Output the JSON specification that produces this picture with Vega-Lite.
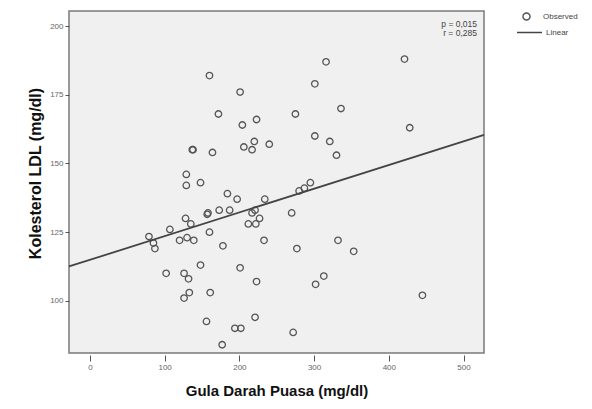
{
  "$schema": "https://vega.github.io/schema/vega-lite/v6.json",
  "width": 415,
  "height": 342,
  "autosize": {"type": "none"},
  "padding": {"left": 69, "top": 11, "right": 108, "bottom": 56},
  "background": "white",
  "config": {
    "font": "Liberation Sans",
    "view": {"fill": "#f0f0f0", "stroke": "#7a7a7a", "strokeWidth": 1.5},
    "axis": {"grid": false, "domain": false, "tickColor": "#555", "labelColor": "#666", "labelFontSize": 8, "titleColor": "#111", "titleFontWeight": "bold"}
  },
  "datasets": {
    "obs": [
      {"gdp": 79, "ldl": 123.4}, {"gdp": 85, "ldl": 121}, {"gdp": 87, "ldl": 119},
      {"gdp": 102, "ldl": 110}, {"gdp": 107, "ldl": 126}, {"gdp": 120, "ldl": 122},
      {"gdp": 126, "ldl": 110}, {"gdp": 126, "ldl": 101}, {"gdp": 128, "ldl": 130},
      {"gdp": 129, "ldl": 146}, {"gdp": 129, "ldl": 142}, {"gdp": 130, "ldl": 123},
      {"gdp": 132, "ldl": 108}, {"gdp": 133, "ldl": 103}, {"gdp": 135, "ldl": 128},
      {"gdp": 137, "ldl": 155}, {"gdp": 138, "ldl": 155}, {"gdp": 139, "ldl": 122},
      {"gdp": 148, "ldl": 143}, {"gdp": 148, "ldl": 113}, {"gdp": 156, "ldl": 92.5},
      {"gdp": 157, "ldl": 131.5}, {"gdp": 158, "ldl": 132}, {"gdp": 160, "ldl": 125},
      {"gdp": 161, "ldl": 103}, {"gdp": 164, "ldl": 154}, {"gdp": 160, "ldl": 182},
      {"gdp": 172, "ldl": 168}, {"gdp": 173, "ldl": 133}, {"gdp": 177, "ldl": 84},
      {"gdp": 178, "ldl": 120}, {"gdp": 184, "ldl": 139}, {"gdp": 187, "ldl": 133},
      {"gdp": 194, "ldl": 90}, {"gdp": 202, "ldl": 90}, {"gdp": 197, "ldl": 137},
      {"gdp": 201, "ldl": 176}, {"gdp": 201, "ldl": 112}, {"gdp": 204, "ldl": 164},
      {"gdp": 206, "ldl": 156}, {"gdp": 212, "ldl": 128}, {"gdp": 217, "ldl": 132},
      {"gdp": 217, "ldl": 155}, {"gdp": 220, "ldl": 158}, {"gdp": 221, "ldl": 133},
      {"gdp": 222, "ldl": 128}, {"gdp": 223, "ldl": 107}, {"gdp": 221, "ldl": 94},
      {"gdp": 223, "ldl": 166}, {"gdp": 227, "ldl": 130}, {"gdp": 233, "ldl": 122},
      {"gdp": 234, "ldl": 137}, {"gdp": 240, "ldl": 157}, {"gdp": 270, "ldl": 132},
      {"gdp": 272, "ldl": 88.5}, {"gdp": 275, "ldl": 168}, {"gdp": 277, "ldl": 119},
      {"gdp": 280, "ldl": 140}, {"gdp": 287, "ldl": 141}, {"gdp": 295, "ldl": 143},
      {"gdp": 301, "ldl": 179}, {"gdp": 301, "ldl": 160}, {"gdp": 302, "ldl": 106},
      {"gdp": 313, "ldl": 109}, {"gdp": 316, "ldl": 187}, {"gdp": 321, "ldl": 158},
      {"gdp": 330, "ldl": 153}, {"gdp": 332, "ldl": 122}, {"gdp": 336, "ldl": 170},
      {"gdp": 353, "ldl": 118}, {"gdp": 421, "ldl": 188}, {"gdp": 428, "ldl": 163},
      {"gdp": 445, "ldl": 102}
    ],
    "fit": [{"gdp": -28, "ldl": 112.5}, {"gdp": 527.4, "ldl": 160.4}],
    "stats": [{"label": "p = 0,015", "gdp": 518, "ldl": 200.8}, {"label": "r = 0,285", "gdp": 518, "ldl": 197.4}]
  },
  "layer": [
    {
      "data": {"name": "obs"},
      "mark": {"type": "point", "filled": false, "stroke": "#555", "strokeWidth": 1.3, "size": 42, "opacity": 1},
      "encoding": {
        "x": {"field": "gdp", "type": "quantitative", "scale": {"domain": [-28, 527.4], "nice": false, "zero": false},
          "axis": {"values": [0, 100, 200, 300, 400, 500], "title": "Gula Darah Puasa (mg/dl)", "offset": 2, "tickSize": 6, "labelPadding": 2, "titleFontSize": 15, "titlePadding": 12}},
        "y": {"field": "ldl", "type": "quantitative", "scale": {"domain": [81, 205.5], "nice": false, "zero": false},
          "axis": {"values": [100, 125, 150, 175, 200], "title": "Kolesterol LDL (mg/dl)", "tickSize": 4, "labelPadding": 2, "titleFontSize": 16, "titleAngle": 270, "titleAlign": "center", "titleBaseline": "middle", "titleX": -34, "titleY": 162}},
        "shape": {"datum": "Observed", "scale": {"range": ["circle"]},
          "legend": {"title": null, "orient": "none", "legendX": 453, "legendY": 1, "symbolSize": 50, "symbolStrokeColor": "#555", "symbolStrokeWidth": 1.4, "labelFontSize": 8, "labelColor": "#444", "labelOffset": 12}}
      }
    },
    {
      "data": {"name": "fit"},
      "mark": {"type": "line", "strokeWidth": 1.8},
      "encoding": {
        "x": {"field": "gdp", "type": "quantitative"},
        "y": {"field": "ldl", "type": "quantitative"},
        "color": {"datum": "Linear", "scale": {"range": ["#444"]},
          "legend": {"title": null, "orient": "none", "legendX": 447, "legendY": 8, "symbolType": "stroke", "symbolSize": 625, "symbolStrokeWidth": 1.5, "labelFontSize": 8, "labelColor": "#444", "labelOffset": 3}}
      }
    },
    {
      "data": {"name": "stats"},
      "mark": {"type": "text", "align": "right", "baseline": "middle", "fontSize": 8.5, "color": "#444"},
      "encoding": {
        "x": {"field": "gdp", "type": "quantitative"},
        "y": {"field": "ldl", "type": "quantitative"},
        "text": {"field": "label"}
      }
    }
  ]
}
